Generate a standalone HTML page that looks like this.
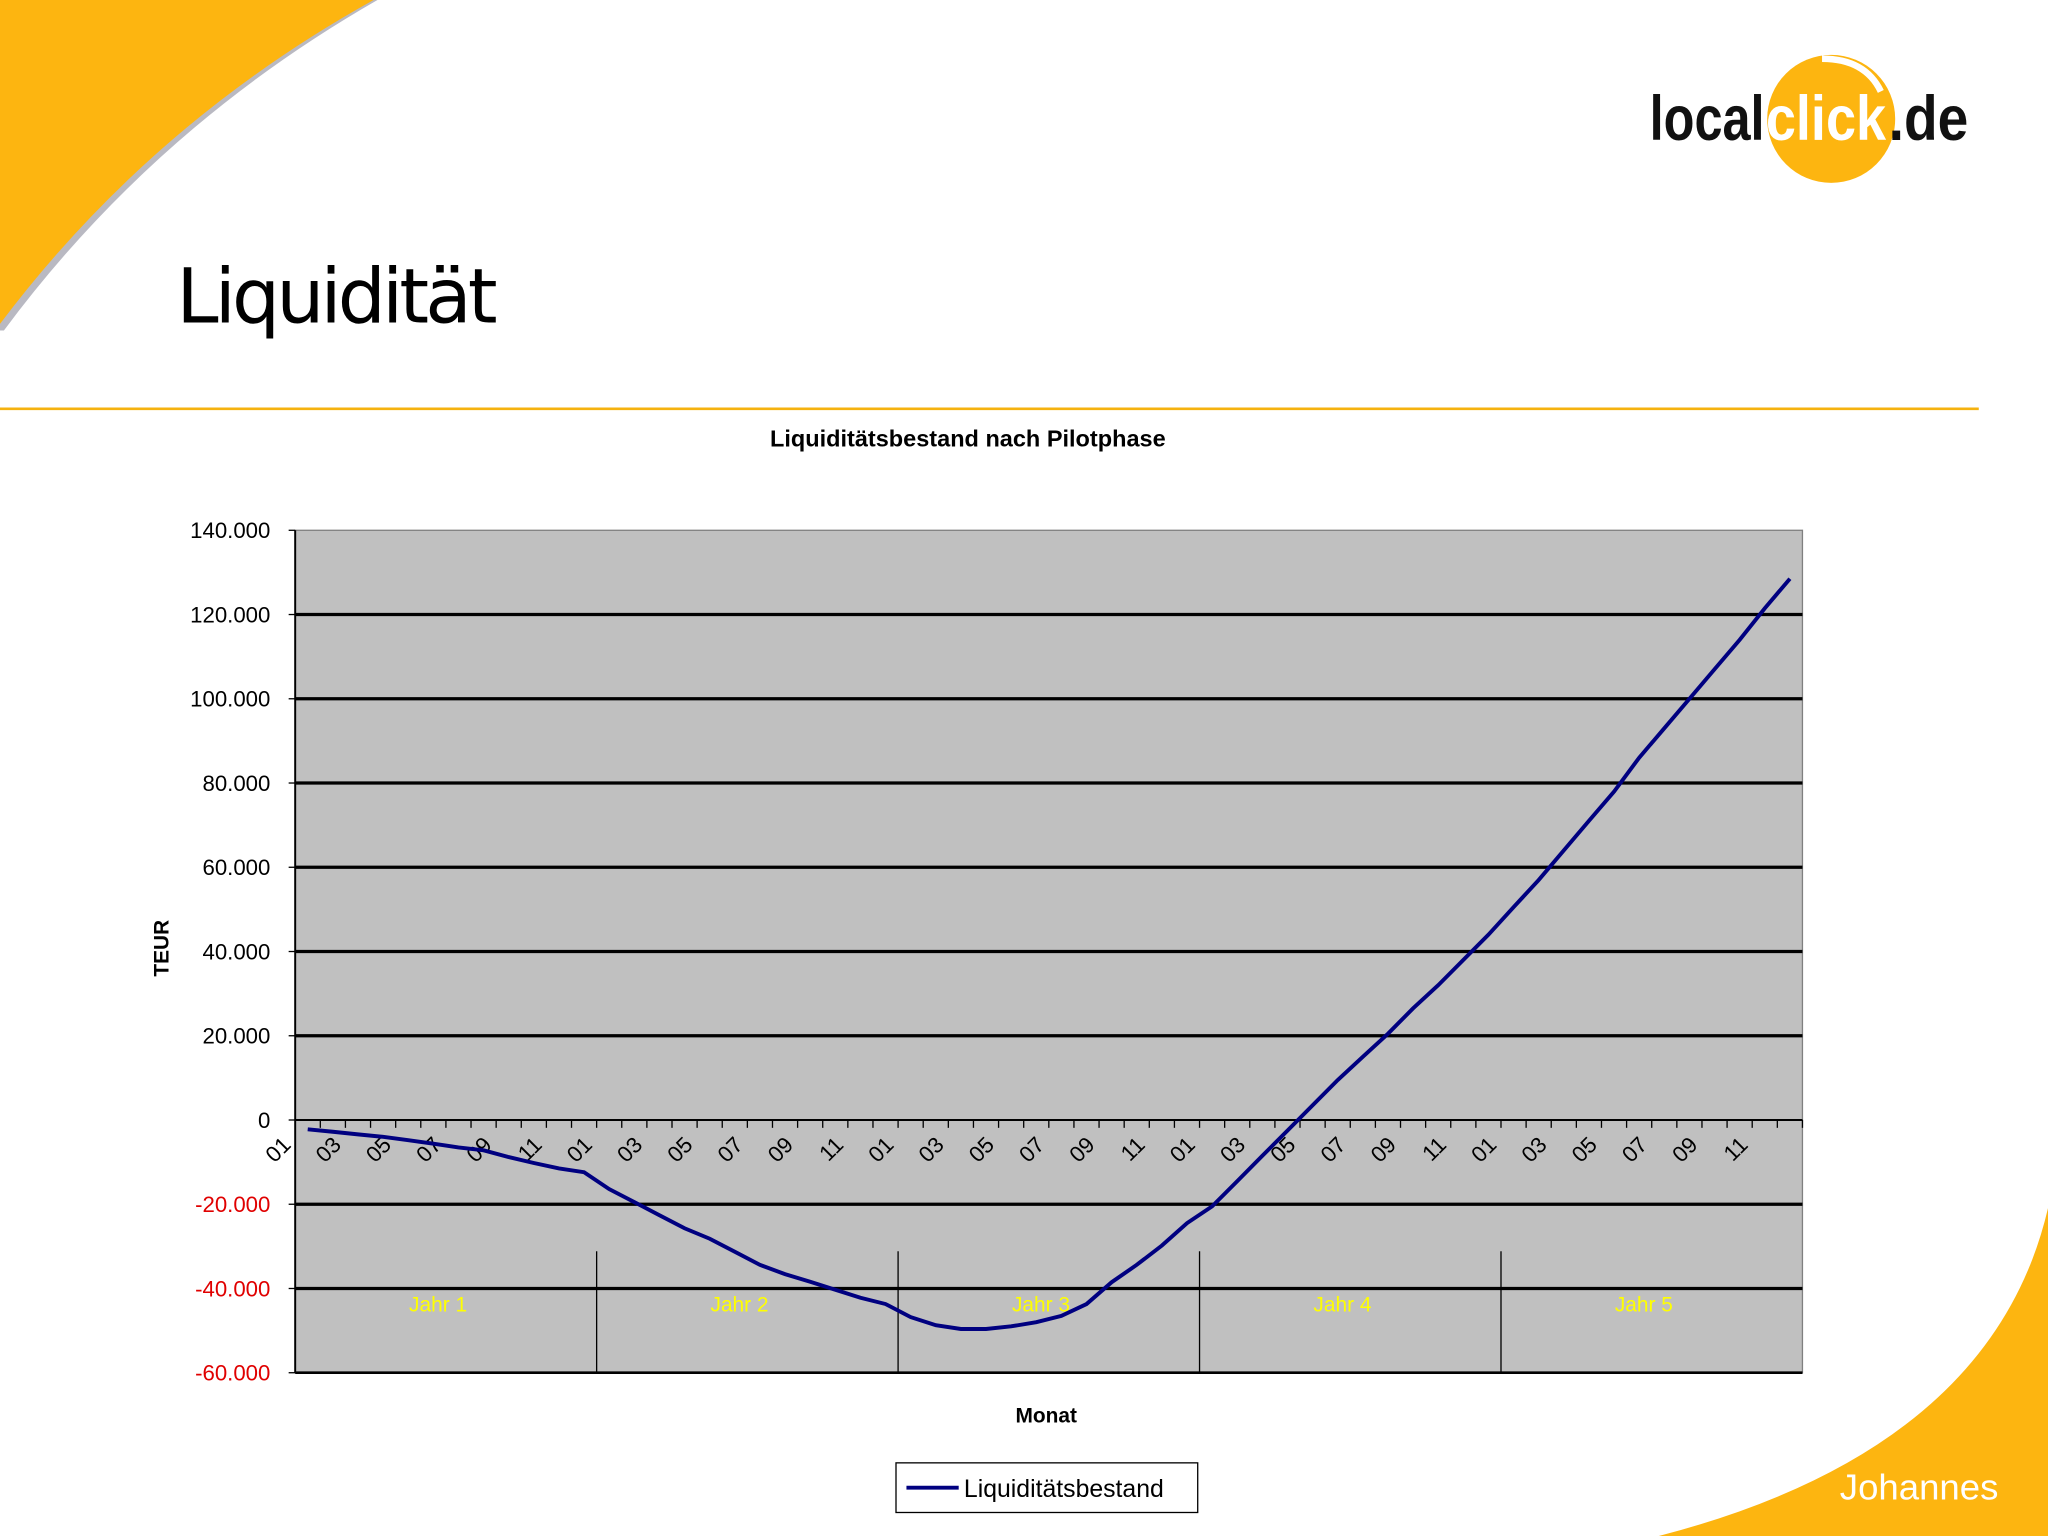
<!DOCTYPE html>
<html><head><meta charset="utf-8"><style>
html,body{margin:0;padding:0;background:#fff;}
svg{display:block;font-family:"Liberation Sans",sans-serif;}
</style></head><body>
<svg id="chart" width="2048" height="1536" viewBox="0 0 1568 1176" xmlns="http://www.w3.org/2000/svg">
<rect width="1568" height="1176" fill="#fff"/>
<path d="M0,0 L289,0 Q118,98 3,253 L0,253 Z" fill="#8a8a9a" opacity="0.6"/>
<path d="M0,0 L286,0 Q115,95 0,248 Z" fill="#FDB510"/>
<path d="M1568,925 Q1525,1110 1270,1176 L1568,1176 Z" fill="#FDB510"/>
<text x="135" y="247" font-size="58" fill="#000" font-family="'DejaVu Sans','Liberation Sans',sans-serif" textLength="246">Liquidität</text>
<line x1="0" y1="313" x2="1515" y2="313" stroke="#F5B20F" stroke-width="2"/>
<g>
<circle cx="1402" cy="91" r="49" fill="#FDB510"/>
<path d="M1395,45 Q1428,45 1440,70" stroke="#fff" stroke-width="5" fill="none"/>
<text x="1263" y="107" font-size="48" font-weight="bold" fill="#111" textLength="88" lengthAdjust="spacingAndGlyphs">local</text>
<text x="1352" y="107" font-size="48" font-weight="bold" fill="#fff" textLength="92" lengthAdjust="spacingAndGlyphs">click</text>
<text x="1446" y="107" font-size="48" font-weight="bold" fill="#111" textLength="61" lengthAdjust="spacingAndGlyphs">.de</text>
</g>
<text x="741" y="342" font-size="18" font-weight="bold" text-anchor="middle">Liquiditätsbestand nach Pilotphase</text>
<rect x="226" y="406" width="1154" height="645" fill="#C0C0C0" stroke="#808080"/>
<g id="grid"></g><g id="yaxis"></g><g id="xaxis"></g><g id="years"></g>
<path id="line" fill="none" stroke="#000080" stroke-width="3"/>
<text x="129" y="726" font-size="16" font-weight="bold" text-anchor="middle" transform="rotate(-90 129 726)">TEUR</text>
<text x="801" y="1089" font-size="16" font-weight="bold" text-anchor="middle">Monat</text>
<g>
<rect x="686" y="1120" width="231" height="38" fill="#fff" stroke="#000"/>
<line x1="694" y1="1139" x2="734" y2="1139" stroke="#000080" stroke-width="3"/>
<text x="738" y="1146" font-size="19">Liquiditätsbestand</text>
</g>
<text x="1530" y="1148" font-size="28" fill="#fff" text-anchor="end">Johannes</text>
</svg>
<script>
const values = [-2.2,-2.8,-3.4,-4.0,-4.8,-5.6,-6.5,-7.2,-8.8,-10.2,-11.5,-12.4,
-16.4,-19.5,-22.6,-25.7,-28.2,-31.3,-34.4,-36.6,-38.4,-40.3,-42.2,-43.7,
-46.8,-48.7,-49.6,-49.6,-49.0,-48.0,-46.5,-43.7,-38.5,-34.4,-29.8,-24.5,
-20.5,-14.5,-8.5,-2.5,3.5,9.5,15.0,20.5,26.5,32.0,38.0,44.0,
50.5,57.0,64.0,71.0,78.0,86.0,93.0,100.0,107.0,114.0,121.5,128.5];
const monthLabels = ["01","02","03","04","05","06","07","08","09","10","11","12"];
const yTicks = [140,120,100,80,60,40,20,0,-20,-40,-60];
const yTickLabels = ["140.000","120.000","100.000","80.000","60.000","40.000","20.000","0","-20.000","-40.000","-60.000"];
const yearLabels = ["Jahr 1","Jahr 2","Jahr 3","Jahr 4","Jahr 5"];
const NS="http://www.w3.org/2000/svg";
const X0=226,X1=1380,Y0=406,Y1=1051,VMAX=140,VMIN=-60;
const n=values.length, step=(X1-X0)/n;
const xs=i=>X0+(i+0.5)*step;
const ys=v=>Y0+(VMAX-v)/(VMAX-VMIN)*(Y1-Y0);
function mk(tag,attrs,parent){const e=document.createElementNS(NS,tag);for(const k in attrs)e.setAttribute(k,attrs[k]);parent.appendChild(e);return e;}
const grid=document.getElementById('grid'),ya=document.getElementById('yaxis'),xa=document.getElementById('xaxis'),yr=document.getElementById('years');
yTicks.forEach((t,k)=>{
  const y=ys(t);
  if(t!==VMAX&&t!==VMIN&&t!==0){const g=mk('line',{x1:X0,x2:X1,y1:y,y2:y,stroke:'#000','stroke-width':2.5},grid);
  
  }
  mk('line',{x1:X0-5,x2:X0,y1:y,y2:y,stroke:'#000'},ya);
  const tx=mk('text',{x:207,y:y+6,'font-size':17,'text-anchor':'end',fill:t<0?'#E00000':'#000'},ya);
  tx.textContent=yTickLabels[k];
  
  
});
mk('line',{x1:X0,x2:X0,y1:Y0,y2:Y1,stroke:'#000','stroke-width':1.5},ya);
mk('line',{x1:X0,x2:X1,y1:Y1,y2:Y1,stroke:'#000','stroke-width':2},ya);
const y0=ys(0);
mk('line',{x1:X0,x2:X1,y1:y0,y2:y0,stroke:'#000','stroke-width':1.5},xa);
for(let i=0;i<=n;i++){const x=X0+i*step;mk('line',{x1:x,x2:x,y1:y0,y2:y0+6,stroke:'#000'},xa);}
for(let i=0;i<n;i+=2){
  const x=xs(i)-12,y=y0+20;
  const t=mk('text',{x:x,y:y,'font-size':17,'text-anchor':'end',transform:`rotate(-45 ${x} ${y})`},xa);
  t.textContent=monthLabels[i%12];
  
  
}
for(let k=0;k<yearLabels.length;k++){
  if(k>0){const x=X0+k*12*step;mk('line',{x1:x,x2:x,y1:958,y2:Y1,stroke:'#000'},yr);}
  const t=mk('text',{x:X0+(k*12+6)*step-6,y:1004,'font-size':16,fill:'#FFFF00','text-anchor':'middle'},yr);
  t.textContent=yearLabels[k];
  
  
}
document.getElementById('line').setAttribute('d',values.map((v,i)=>(i?'L':'M')+xs(i).toFixed(1)+','+ys(v).toFixed(1)).join(' '));
</script>
</body></html>
